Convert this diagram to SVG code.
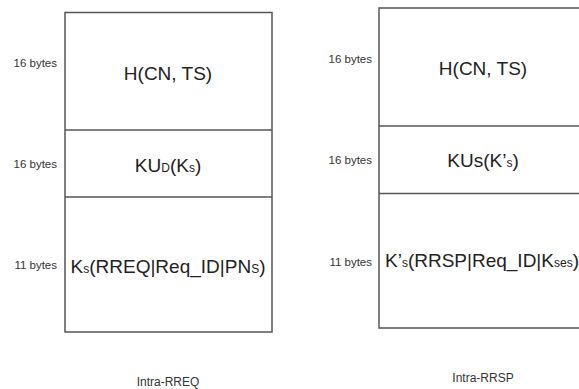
<svg xmlns="http://www.w3.org/2000/svg" width="579" height="389" viewBox="0 0 579 389">
<style>
.box{fill:#fff;stroke:#555;stroke-width:1.5}
.main{font-family:"Liberation Sans",Arial,sans-serif;font-size:19px;fill:#222;text-anchor:middle}
.lbl{font-family:"Liberation Sans",Arial,sans-serif;font-size:11.5px;fill:#333;text-anchor:end}
.cap{font-family:"Liberation Sans",Arial,sans-serif;font-size:12px;fill:#333;text-anchor:middle}
.sub{font-size:12px}
</style>
<rect width="579" height="389" fill="#fff"/>
<g id="intra-rreq">
  <rect class="box" x="65" y="12.5" width="207" height="319.5"/>
  <line class="box" x1="65" y1="130" x2="272" y2="130"/>
  <line class="box" x1="65" y1="197" x2="272" y2="197"/>
  <text class="lbl" x="57" y="67">16 bytes</text>
  <text class="lbl" x="57" y="168">16 bytes</text>
  <text class="lbl" x="57" y="269">11 bytes</text>
  <text class="main" x="168" y="80">H(CN, TS)</text>
  <text class="main" x="168" y="172">KU<tspan class="sub">D</tspan>(K<tspan class="sub">s</tspan>)</text>
  <text class="main" x="168" y="273">K<tspan class="sub">s</tspan>(RREQ|Req_ID|PN<tspan class="sub">S</tspan>)</text>
  <text class="cap" x="168" y="386">Intra-RREQ</text>
</g>
<g id="intra-rrsp">
  <rect class="box" x="379" y="8" width="209" height="320"/>
  <line class="box" x1="379" y1="126" x2="588" y2="126"/>
  <line class="box" x1="379" y1="193.5" x2="588" y2="193.5"/>
  <text class="lbl" x="372" y="63">16 bytes</text>
  <text class="lbl" x="372" y="164">16 bytes</text>
  <text class="lbl" x="372" y="266">11 bytes</text>
  <text class="main" x="483" y="75">H(CN, TS)</text>
  <text class="main" x="483" y="167">KUs(K’<tspan class="sub">s</tspan>)</text>
  <text class="main" x="482" y="267">K’<tspan class="sub">s</tspan>(RRSP|Req_ID|K<tspan class="sub">ses</tspan>)</text>
  <text class="cap" x="483" y="382">Intra-RRSP</text>
</g>
</svg>
